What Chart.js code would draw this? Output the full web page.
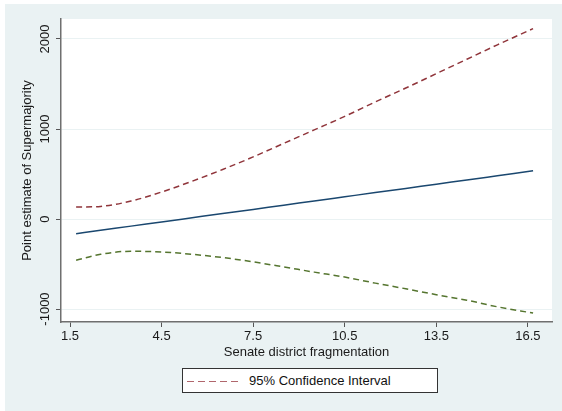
<!DOCTYPE html>
<html>
<head>
<meta charset="utf-8">
<script src="https://cdn.jsdelivr.net/npm/chart.js@4"></script>
<style>
  body { margin: 0; background: #ffffff; }
  #wrap { position: absolute; left: 5px; top: 4px; width: 557px; height: 407px; background: #eaf2f3; }
  #myChart { position: absolute; left: 0; top: 0; }
  #legend {
    position: absolute; left: 177px; top: 364px; width: 254px; height: 23px;
    background: #ffffff; border: 1px solid #333333;
    font-family: "Liberation Sans", Arial, sans-serif; font-size: 13px; color: #111111;
  }
  #legend svg { position: absolute; left: 3px; top: 11px; }
  #legend span { position: absolute; left: 66px; top: 4px; }
</style>
</head>
<body>
<div id="wrap">
  <canvas id="myChart" width="557" height="407"></canvas>
  <div id="legend">
    <svg width="56" height="3"><line x1="1" y1="1.5" x2="56" y2="1.5" stroke="#b0666c" stroke-width="1.2" stroke-dasharray="7,4"/></svg>
    <span>95% Confidence Interval</span>
  </div>
</div>
<script>
// 축 눈금
const X_TICKS = [1.5, 4.5, 7.5, 10.5, 13.5, 16.5];
const Y_TICKS = [-1000, 0, 1000, 2000];

// 그림에서 읽은 값
const fragmentation = [1.7, 2.5, 3.5, 4.5, 5.5, 6.5, 7.5, 8.5, 9.5, 10.5, 11.5, 12.5, 13.5, 14.5, 15.5, 16.67];
const pointEstimate = [-163, -126, -79, -33, 14, 61, 107, 154, 200, 247, 294, 340, 387, 433, 480, 535];
const upperCI = [133, 140, 200, 300, 420, 550, 690, 840, 990, 1140, 1300, 1455, 1615, 1775, 1935, 2115];
const lowerCI = [-459, -392, -358, -366, -392, -428, -476, -532, -590, -645, -712, -775, -841, -902, -975, -1045];

const FONT = "'Liberation Sans', Arial, sans-serif";

const toPoints = (ys) => fragmentation.map((x, i) => ({ x: x, y: ys[i] }));

// 흰색 플롯 영역 + 회전된 y축 눈금
const plotBg = {
  id: 'plotBg',
  beforeDraw(chart) {
    const { ctx, chartArea: a } = chart;
    ctx.save();
    ctx.fillStyle = '#ffffff';
    ctx.fillRect(a.left, a.top, a.right - a.left, a.bottom - a.top);
    ctx.restore();
  },
  afterDraw(chart) {
    const { ctx } = chart;
    const y = chart.scales.y;
    ctx.save();
    ctx.font = '13px ' + FONT;
    ctx.fillStyle = '#1a1a1a';
    ctx.textAlign = 'center';
    ctx.textBaseline = 'middle';
    y.ticks.forEach(t => {
      ctx.save();
      ctx.translate(40, y.getPixelForValue(t.value));
      ctx.rotate(-Math.PI / 2);
      ctx.fillText(String(t.value), 0, 0);
      ctx.restore();
    });
    ctx.restore();
  }
};

const config = {
  type: 'line',
  data: {
    datasets: [
      {
        label: 'Point estimate',
        data: toPoints(pointEstimate),
        borderColor: '#1a476f',
        borderWidth: 1.5,
        pointRadius: 0,
        cubicInterpolationMode: 'monotone'
      },
      {
        label: '95% Confidence Interval',
        data: toPoints(upperCI),
        borderColor: '#90353b',
        borderWidth: 1.5,
        borderDash: [6, 4],
        pointRadius: 0,
        cubicInterpolationMode: 'monotone'
      },
      {
        label: 'lower',
        data: toPoints(lowerCI),
        borderColor: '#55752f',
        borderWidth: 1.5,
        borderDash: [6, 4],
        pointRadius: 0,
        cubicInterpolationMode: 'monotone'
      }
    ]
  },
  options: {
    responsive: false,
    animation: false,
    layout: { padding: { left: 0, top: 15, right: 10, bottom: 51 } },
    plugins: { legend: { display: false }, tooltip: { enabled: false } },
    scales: {
      x: {
        type: 'linear',
        min: 1.205,
        max: 17.29,
        afterBuildTicks: (s) => { s.ticks = X_TICKS.map(v => ({ value: v })); },
        afterFit: (s) => { s.height = 38; },
        ticks: {
          font: { family: FONT, size: 13 },
          color: '#1a1a1a',
          padding: 2,
          callback: (v) => v.toFixed(1)
        },
        grid: { drawOnChartArea: false, drawTicks: true, tickLength: 5, tickColor: '#555555' },
        border: { display: true, color: '#6f6f6f', width: 1.5 },
        title: {
          display: true,
          text: 'Senate district fragmentation',
          font: { family: FONT, size: 13 },
          color: '#1a1a1a',
          padding: { top: 0, bottom: 0 }
        }
      },
      y: {
        type: 'linear',
        min: -1144,
        max: 2222,
        afterBuildTicks: (s) => { s.ticks = Y_TICKS.map(v => ({ value: v })); },
        afterFit: (s) => { s.width = 56; },
        ticks: { color: 'rgba(0,0,0,0)', font: { family: FONT, size: 13 } },
        grid: { color: '#eaf2f3', lineWidth: 1, drawTicks: true, tickLength: 5, tickColor: '#555555' },
        border: { display: true, color: '#6f6f6f', width: 1.5 },
        title: {
          display: true,
          text: 'Point estimate of Supermajority',
          font: { family: FONT, size: 13 },
          color: '#1a1a1a',
          padding: { top: 15, bottom: 0 }
        }
      }
    }
  },
  plugins: [plotBg]
};

const myChart = new Chart(document.getElementById('myChart'), config);
</script>
</body>
</html>
